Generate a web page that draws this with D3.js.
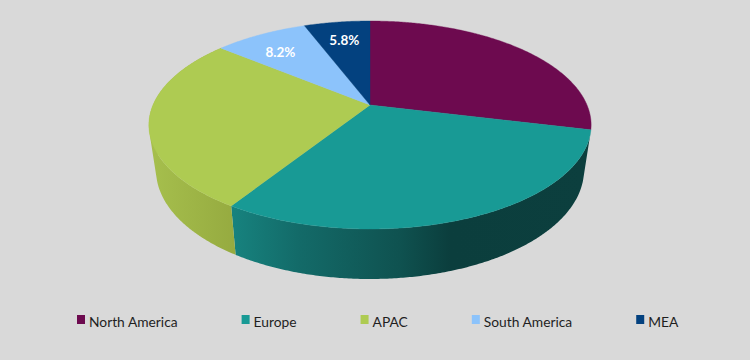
<!DOCTYPE html>
<html>
<head>
<meta charset="utf-8">
<script src="https://cdn.jsdelivr.net/npm/d3@7"></script>
<style>
  html, body { margin: 0; padding: 0; background: #d9d9d9; }
  svg { display: block; font-family: Lato, "Open Sans", sans-serif; }
</style>
</head>
<body>
<svg id="chart" width="750" height="360"></svg>
<script>
const categories = ['North America', 'Europe', 'APAC', 'South America', 'MEA'];
const shares = [28.8, 30.2, 27.0, 8.2, 5.8];
const printedLabels = ['', '', '', '8.2%', '5.8%'];
const sliceColors = ['#6d0a4f', '#189a95', '#aecb52', '#8cc3fb', '#03417f'];

const _W = 750, _H = 360;
const _APEX_X = 370, _APEX_Y = 105;
// tilted disc: the apex is not the middle of the ellipse, so use a projective map
const _PERSP = 0.1923, _R_X = 217, _R_Y = 100.15;
// ellipses of the top and bottom rims
const _TOP = {cy: 125, rx: 221, ry: 104};
const _BOT = {cy: 170, rx: 214, ry: 109};
const _STEP = Math.PI / 180 / 2;

const svg = d3.select('#chart');
const colors = d3.scaleOrdinal().domain(categories).range(sliceColors);
const defs = svg.append('defs');

const pie = d3.pie().sort(null).value((d, i) => shares[i]);
const arcs = pie(categories);

function project(theta, r = 1) {
    let u = Math.sin(theta) * r, v = Math.cos(theta) * r;
    let den = 1 + _PERSP * v;
    return [_APEX_X + _R_X * u / den, _APEX_Y - _R_Y * v / den];
}

// same ellipse parameter on the lower rim
function dropToBottom(p) {
    let t = Math.atan2((p[0] - _APEX_X) / _TOP.rx, (_TOP.cy - p[1]) / _TOP.ry);
    return [_APEX_X + _BOT.rx * Math.sin(t), _BOT.cy - _BOT.ry * Math.cos(t)];
}

function rim(a) {
    let pts = d3.range(a.startAngle, a.endAngle, _STEP).map(t => project(t));
    pts.push(project(a.endAngle));
    return pts;
}

const line = d3.line();

// wall is a row of quads in one path, all wound the same way so they union
function wallPath(a) {
    let top = rim(a), quads = '';
    for (let i = 0; i < top.length - 1; i++) {
        let q = [top[i], top[i + 1], dropToBottom(top[i + 1]), dropToBottom(top[i])];
        if (d3.polygonArea(q) < 0) q.reverse();
        quads += line(q) + 'Z';
    }
    return quads;
}

// wall shading, left to right
const wallStops = {
    'Europe': [[231, '#17837f'], [300, '#136a68'], [400, '#0f5250'], [450, '#0b3e3d'], [590, '#0c3f3e']],
    'APAC': [[150, '#a6bf4d'], [234, '#96ab40']]
};
Object.entries(wallStops).forEach(([name, stops]) => {
    let g = defs.append('linearGradient')
        .attr('id', 'wall-' + name)
        .attr('gradientUnits', 'userSpaceOnUse')
        .attr('x1', stops[0][0]).attr('x2', stops[stops.length - 1][0])
        .attr('y1', 0).attr('y2', 0);
    let span = stops[stops.length - 1][0] - stops[0][0];
    stops.forEach(s => g.append('stop')
        .attr('offset', (s[0] - stops[0][0]) / span)
        .attr('stop-color', s[1]));
});

// walls first, the top face hides whatever is behind
svg.append('g').selectAll('path')
    .data(arcs.filter(a => wallStops[a.data]))
    .join('path')
    .attr('d', wallPath)
    .attr('fill', a => 'url(#wall-' + a.data + ')');

svg.append('g').selectAll('path')
    .data(arcs)
    .join('path')
    .attr('d', a => line([[_APEX_X, _APEX_Y]].concat(rim(a))) + 'Z')
    .attr('fill', a => colors(a.data))
    .attr('stroke', a => colors(a.data))
    .attr('stroke-width', 0.4);

// excel pushes the 8.2% label off the bisector a bit
const labelShift = {'South America': -2.4 * Math.PI / 180};
function labelPos(a) {
    return project((a.startAngle + a.endAngle) / 2 + (labelShift[a.data] || 0), 0.745);
}
svg.append('g').selectAll('text')
    .data(arcs.filter(a => printedLabels[a.index]))
    .join('text')
    .attr('x', a => labelPos(a)[0])
    .attr('y', a => labelPos(a)[1])
    .attr('dy', '0.35em')
    .attr('text-anchor', 'middle')
    .attr('fill', '#fff')
    .attr('font-size', 13.5)
    .attr('font-weight', 700)
    .text(a => printedLabels[a.index]);

// legend flows left to right from the measured text widths
let legendX = 77;
const legend = svg.append('g');
categories.forEach(name => {
    legend.append('rect')
        .attr('x', legendX).attr('y', 315)
        .attr('width', 8).attr('height', 9)
        .attr('fill', colors(name));
    let label = legend.append('text')
        .attr('x', legendX + 12).attr('y', 327)
        .attr('font-size', 13.8)
        .attr('fill', '#1f1f1f')
        .text(name);
    legendX += 12 + label.node().getComputedTextLength() + 64;
});
</script>
</body>
</html>
